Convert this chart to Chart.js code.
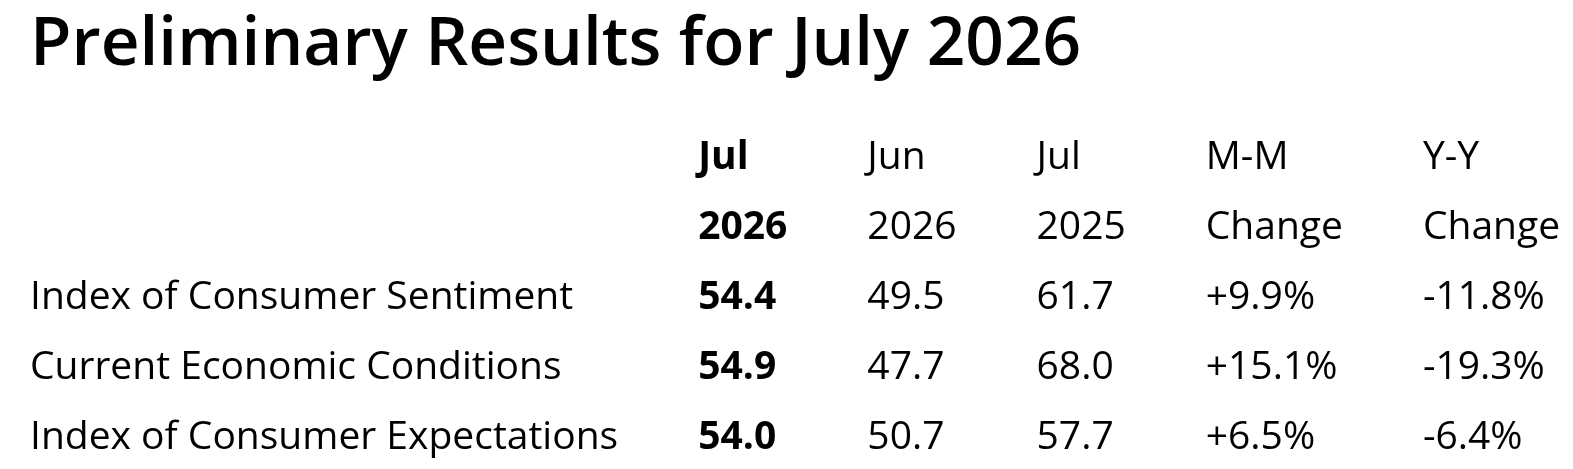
<!DOCTYPE html>
<html>
<head>
<meta charset="utf-8">
<title>Preliminary Results for July 2026</title>
<script src="https://cdn.jsdelivr.net/npm/chart.js@4/dist/chart.umd.min.js"></script>
<style>
  html, body { margin: 0; padding: 0; background: #fff; }
  #wrap { width: 1573px; height: 469px; }
</style>
</head>
<body>
<div id="wrap"><canvas id="table"></canvas></div>
<script>
// table content
const headTop = ['', 'Jul', 'Jun', 'Jul', 'M-M', 'Y-Y'];
const headBottom = ['', '2026', '2026', '2025', 'Change', 'Change'];
const rowLabels = ['Index of Consumer Sentiment', 'Current Economic Conditions', 'Index of Consumer Expectations'];
const jul2026 = [54.4, 54.9, 54.0];
const jun2026 = [49.5, 47.7, 50.7];
const jul2025 = [61.7, 68.0, 57.7];
const mmChange = [9.9, 15.1, 6.5];
const yyChange = [-11.8, -19.3, -6.4];

const boldCol = 1;
const fontFamily = '"Open Sans", "Noto Sans", sans-serif';
const bodySize = 39;
const colGap = 80;

function pct(v) {
    return (v > 0 ? '+' : '') + v.toFixed(1) + '%';
}

const grid = [headTop, headBottom];
rowLabels.forEach((lab, i) => {
    grid.push([lab, jul2026[i].toFixed(1), jun2026[i].toFixed(1), jul2025[i].toFixed(1), pct(mmChange[i]), pct(yyChange[i])]);
});
const rowKeys = grid.map((r, i) => 'row' + i);

const tablePlugin = {
    id: 'tableCells',
    afterDraw(chart) {
        const ctx = chart.ctx;
        const area = chart.chartArea;
        const yScale = chart.scales.y;
        ctx.save();
        ctx.fillStyle = '#000';
        ctx.textAlign = 'left';
        ctx.textBaseline = 'alphabetic';

        // column widths like an auto table layout
        const widths = headTop.map(() => 0);
        grid.forEach(row => {
            row.forEach((txt, c) => {
                ctx.font = (c === boldCol ? '700 ' : '400 ') + bodySize + 'px ' + fontFamily;
                widths[c] = Math.max(widths[c], ctx.measureText(txt).width);
            });
        });
        const starts = [];
        let x = area.left;
        widths.forEach(w => { starts.push(x); x += w + colGap; });

        grid.forEach((row, r) => {
            const y = yScale.getPixelForValue(r);
            row.forEach((txt, c) => {
                ctx.font = (c === boldCol ? '700 ' : '400 ') + bodySize + 'px ' + fontFamily;
                ctx.fillText(txt, starts[c], y);
            });
        });
        ctx.restore();
    }
};

const ctx = document.getElementById('table').getContext('2d');
const chart = new Chart(ctx, {
    type: 'scatter',
    data: { datasets: [] },
    options: {
        responsive: true,
        maintainAspectRatio: false,
        animation: false,
        layout: { padding: { left: 30, right: 10, top: 0, bottom: 20 } },
        plugins: {
            legend: { display: false },
            tooltip: { enabled: false },
            title: {
                display: true,
                text: 'Preliminary Results for July 2026',
                align: 'start',
                color: '#000',
                font: { family: fontFamily, size: 67.5, weight: '600', lineHeight: 1.2 },
                padding: { top: 5, bottom: 83 }
            }
        },
        scales: {
            x: { type: 'linear', min: 0, max: 1, display: false },
            y: { type: 'category', labels: rowKeys, offset: false, display: false }
        }
    },
    plugins: [tablePlugin]
});
</script>
</body>
</html>
